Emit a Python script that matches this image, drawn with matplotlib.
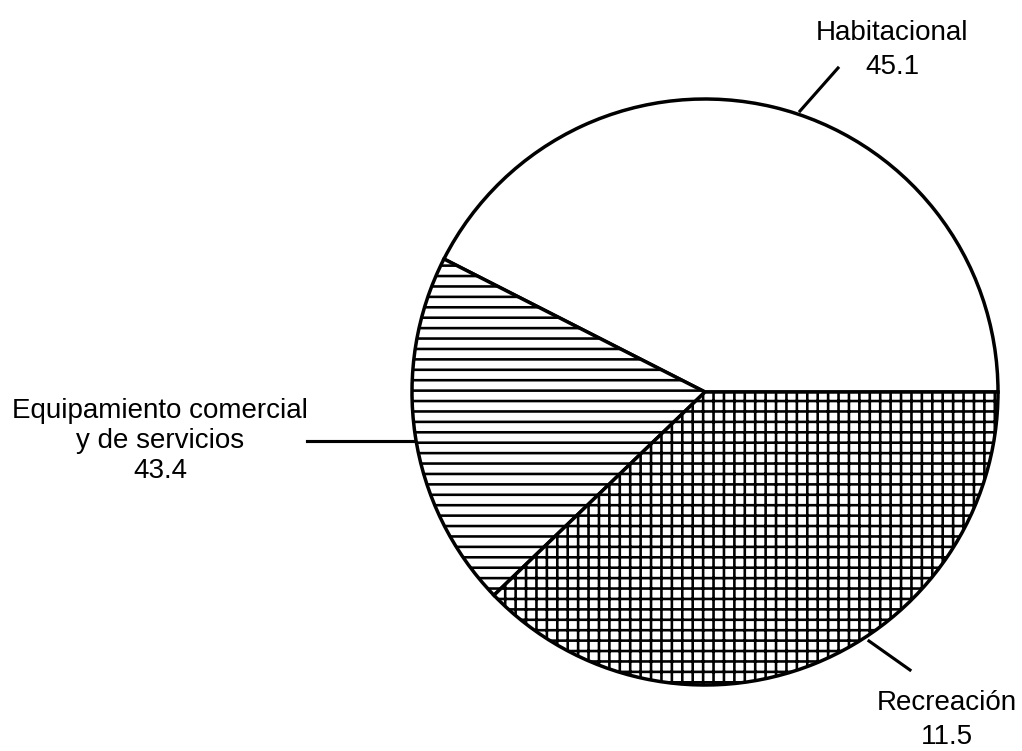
import matplotlib
matplotlib.use("Agg")
import matplotlib.pyplot as plt

# etiquetas y valores tal como aparecen en la figura
categorias = ["Habitacional", "Equipamiento comercial\ny de servicios", "Recreación"]
valores = ["45.1", "43.4", "11.5"]
# proporciones de las rebanadas (grados / 360 * 100)
rebanadas = [42.5, 19.7, 37.8]
tramas = ["", "--", "++"]

H = 751
plt.rcParams["font.family"] = ["Liberation Sans", "DejaVu Sans"]
plt.rcParams["hatch.linewidth"] = 1.5

fig = plt.figure(figsize=(8.184, 6.008), dpi=125)
ax = fig.add_axes([0, 0, 1, 1])

cx, cy, r = 705, H - 392, 293
ax.pie(rebanadas, colors=["white"] * 3, startangle=0, counterclock=True,
       center=(cx, cy), radius=r, hatch=tramas,
       wedgeprops=dict(edgecolor="black", linewidth=2.0))

ax.set_xlim(0, 1023)
ax.set_ylim(0, H)
ax.axis("off")

fs = 16
# lineas guia
ax.plot([800, 838], [H - 111, H - 68], color="black", lw=1.8)
ax.plot([307, 414], [H - 441, H - 441], color="black", lw=1.8)
ax.plot([869, 910], [H - 641, H - 670], color="black", lw=1.8)

ax.text(892, H - 33, categorias[0], ha="center", va="center", fontsize=fs)
ax.text(892, H - 67, valores[0], ha="center", va="center", fontsize=fs)

lineas = categorias[1].split("\n")
ax.text(160, H - 411, lineas[0], ha="center", va="center", fontsize=fs)
ax.text(160, H - 441, lineas[1], ha="center", va="center", fontsize=fs)
ax.text(160, H - 471, valores[1], ha="center", va="center", fontsize=fs)

ax.text(947, H - 703, categorias[2], ha="center", va="center", fontsize=fs)
ax.text(947, H - 737, valores[2], ha="center", va="center", fontsize=fs)

fig.savefig("out.png", dpi=125, facecolor="white")
